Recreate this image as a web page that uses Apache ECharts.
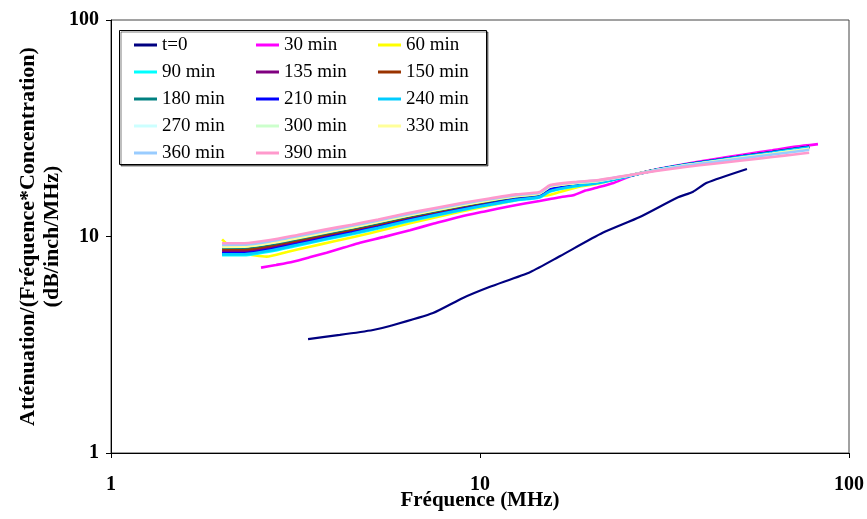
<!DOCTYPE html>
<html><head><meta charset="utf-8">
<script src="https://cdn.jsdelivr.net/npm/echarts@6/dist/echarts.min.js"></script>
<style>html,body{margin:0;padding:0;background:#fff}#c{width:867px;height:519px}</style>
</head><body><div id="c"></div>
<script>
// ---- data ----
const xTicks = [1, 10, 100];
const yTicks = [1, 10, 100];

const names = ['t=0','30 min','60 min','90 min','135 min','150 min','180 min','210 min','240 min','270 min','300 min','330 min','360 min','390 min'];

const freqT0 = [3.42, 4.17, 5.13, 5.70, 7.46, 8.99, 10.6, 13.7, 16.5, 21.5, 27.1, 34.2, 37.8, 41.2, 52.9];
const valT0  = [3.36, 3.51, 3.70, 3.86, 4.43, 5.20, 5.84, 6.86, 8.13, 10.4, 12.3, 15.1, 16.1, 17.7, 20.5];

const freq30 = [2.55, 2.8, 3.11, 3.45, 3.84, 4.3, 4.73, 5.5, 6.46, 7.5, 8.83, 10.3, 12.06, 14.5, 15.5, 16.6, 17.9, 19.3, 20.7, 23, 25.5, 30, 36, 43, 52, 62, 72, 82.4];
const val30  = [7.18, 7.39, 7.65, 8.01, 8.42, 8.91, 9.36, 9.96, 10.7, 11.47, 12.35, 13.06, 13.8, 14.6, 14.9, 15.22, 15.5, 16.3, 16.8, 17.66, 19.0, 20.39, 21.62, 22.75, 23.94, 25.01, 26.0, 26.7];

const freq60 = [2.0, 2.05, 2.3, 2.64, 3.0, 3.46, 4.0, 5.03, 6.46, 8.83, 12.6, 14.5, 15.5, 18.7, 21, 25, 30, 36, 43, 52, 62, 72, 78];
const val60  = [9.70, 9.33, 8.36, 8.07, 8.48, 8.97, 9.48, 10.35, 11.5, 13.03, 14.75, 15.30, 15.60, 17.02, 17.57, 18.95, 20.30, 21.40, 22.40, 23.45, 24.43, 25.33, 25.82];

const freqLate = [2.0, 2.3, 2.7, 3.2, 3.8, 4.5, 5.3, 6.3, 7.5, 9.0, 10.5, 12.5, 14.5, 15.5, 18, 21, 25, 30, 36, 43, 52, 62, 72, 78];
const val90  = [8.19, 8.20, 8.53, 9.07, 9.65, 10.24, 10.90, 11.67, 12.43, 13.26, 13.94, 14.68, 15.16, 16.14, 17.02, 17.67, 18.88, 20.30, 21.43, 22.38, 23.44, 24.42, 25.32, 25.81];
const val135 = [8.54, 8.55, 8.88, 9.42, 10.01, 10.59, 11.25, 12.02, 12.78, 13.60, 14.27, 15.00, 15.46, 16.75, 17.33, 17.86, 18.96, 20.31, 21.46, 22.44, 23.52, 24.52, 25.44, 25.93];
const val150 = [8.73, 8.73, 9.06, 9.60, 10.19, 10.78, 11.43, 12.20, 12.96, 13.77, 14.43, 15.16, 15.61, 16.84, 17.46, 17.95, 19.01, 20.32, 21.47, 22.45, 23.53, 24.53, 25.45, 25.94];
const val180 = [8.87, 8.88, 9.20, 9.74, 10.33, 10.91, 11.56, 12.34, 13.10, 13.90, 14.56, 15.28, 15.72, 16.93, 17.55, 18.03, 19.04, 20.33, 21.48, 22.46, 23.54, 24.54, 25.46, 25.95];
const val210 = [8.36, 8.37, 8.71, 9.24, 9.83, 10.42, 11.07, 11.85, 12.61, 13.43, 14.10, 14.84, 15.31, 16.57, 17.20, 17.77, 18.92, 20.30, 21.45, 22.43, 23.51, 24.51, 25.43, 25.92];
const val240 = [8.27, 8.28, 8.61, 9.15, 9.74, 10.33, 10.98, 11.76, 12.52, 13.34, 14.02, 14.76, 15.24, 16.22, 17.11, 17.72, 18.90, 20.31, 21.44, 22.39, 23.45, 24.43, 25.33, 25.82];
const val270 = [9.06, 9.07, 9.39, 9.93, 10.52, 11.10, 11.75, 12.52, 13.28, 14.08, 14.73, 15.44, 15.87, 17.09, 17.68, 18.12, 19.08, 20.24, 21.30, 22.20, 23.19, 24.12, 24.95, 25.41];
const val300 = [9.01, 9.02, 9.34, 9.88, 10.47, 11.05, 11.71, 12.48, 13.23, 14.04, 14.69, 15.40, 15.83, 17.04, 17.65, 18.09, 19.07, 20.23, 21.28, 22.18, 23.16, 24.09, 24.92, 25.38];
const val330 = [8.96, 8.97, 9.30, 9.83, 10.42, 11.01, 11.66, 12.43, 13.18, 13.99, 14.65, 15.36, 15.79, 17.00, 17.62, 18.06, 19.06, 20.21, 21.26, 22.16, 23.14, 24.06, 24.89, 25.35];
const val360 = [9.15, 9.16, 9.49, 10.02, 10.61, 11.20, 11.85, 12.62, 13.37, 14.17, 14.82, 15.53, 15.94, 17.16, 17.76, 18.16, 19.10, 20.20, 21.21, 22.07, 23.02, 23.92, 24.71, 25.14];
const val390 = [9.30, 9.31, 9.63, 10.17, 10.76, 11.34, 11.99, 12.76, 13.51, 14.31, 14.95, 15.65, 16.06, 17.29, 17.85, 18.24, 19.13, 20.07, 20.94, 21.69, 22.51, 23.29, 23.99, 24.35];

// ---- styles ----
const colors = ['#000080','#FF00FF','#FFFF00','#00FFFF','#800080','#993300','#008080','#0000FF','#00CCFF','#CCFFFF','#CCFFCC','#FFFF99','#99CCFF','#FF99CC'];
const FONT = 'Liberation Serif';

const seriesSrc = [
  [freqT0, valT0], [freq30, val30], [freq60, val60],
  [freqLate, val90], [freqLate, val135], [freqLate, val150], [freqLate, val180],
  [freqLate, val210], [freqLate, val240], [freqLate, val270], [freqLate, val300],
  [freqLate, val330], [freqLate, val360], [freqLate, val390]
];

const series = seriesSrc.map((s, i) => ({
  name: names[i],
  type: 'line',
  data: s[0].map((f, j) => [f, s[1][j]]),
  showSymbol: false,
  symbol: 'none',
  smooth: 0.2,
  lineStyle: { color: colors[i], width: i === 0 ? 2.2 : 2.6 },
  itemStyle: { color: colors[i] },
  z: 2 + i * 0.01
}));

const chart = echarts.init(document.getElementById('c'), null, { renderer: 'canvas' });
chart.setOption({
  animation: false,
  backgroundColor: '#fff',
  grid: { left: 111, right: 18, top: 20, bottom: 66, containLabel: false, outerBoundsMode: 'none', show: true, borderColor: '#444', borderWidth: 1, backgroundColor: 'transparent' },
  xAxis: {
    type: 'log', logBase: 10, min: xTicks[0], max: xTicks[xTicks.length - 1],
    axisLine: { show: true, onZero: false, lineStyle: { color: '#000', width: 1 } },
    axisTick: { show: true, inside: false, length: 5, lineStyle: { color: '#000' } },
    minorTick: { show: false },
    splitLine: { show: false },
    axisLabel: { fontFamily: FONT, fontWeight: 'bold', fontSize: 20, color: '#000', margin: 22 },
    name: 'Fréquence (MHz)', nameLocation: 'middle', nameGap: 37, nameMoveOverlap: false,
    nameTextStyle: { fontFamily: FONT, fontWeight: 'bold', fontSize: 21, color: '#000' }
  },
  yAxis: {
    type: 'log', logBase: 10, min: yTicks[0], max: yTicks[yTicks.length - 1],
    axisLine: { show: true, onZero: false, lineStyle: { color: '#000', width: 1 } },
    axisTick: { show: true, inside: false, length: 5, lineStyle: { color: '#000' } },
    minorTick: { show: false },
    splitLine: { show: false },
    axisLabel: { fontFamily: FONT, fontWeight: 'bold', fontSize: 20, color: '#000', margin: 12 },
    name: 'Atténuation/(Fréquence*Concentration)\n(dB/inch/MHz)', nameLocation: 'middle', nameGap: 47, nameRotate: 90, nameMoveOverlap: false,
    nameTextStyle: { fontFamily: FONT, fontWeight: 'bold', fontSize: 22, color: '#000', lineHeight: 24, align: 'center' }
  },
  graphic: [{
    type: 'rect', z: 3,
    shape: { x: 119.5, y: 30.5, width: 367, height: 134 },
    style: { fill: '#fff', stroke: '#000', lineWidth: 1, shadowColor: 'rgba(0,0,0,0.5)', shadowOffsetX: 1.5, shadowOffsetY: 1.5, shadowBlur: 0 }
  }],
  legend: {
    left: 134, top: 35, width: 370, orient: 'horizontal', padding: 0,
    icon: 'rect', itemWidth: 23, itemHeight: 3, itemGap: 7,
    textStyle: { fontFamily: FONT, fontSize: 19, color: '#000', width: 87, lineHeight: 20, height: 20 },
    data: names, z: 5
  },
  series: series
});
</script>
</body></html>
